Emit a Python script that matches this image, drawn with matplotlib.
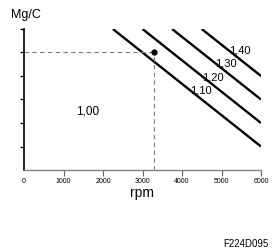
import matplotlib
matplotlib.use("Agg")
import matplotlib.pyplot as plt

# datos
ratios = ["1,10", "1,20", "1,30", "1,40"]
rpm_start = [2250, 3000, 3750, 4500]
mgc_start = [6, 6, 6, 6]
rpm_end = [6000, 6000, 6000, 6000]
mgc_end = [1, 2, 3, 4]
label_rpm = [4470, 4770, 5120, 5470]
label_mgc = [3.4, 3.95, 4.55, 5.1]

punto_rpm = 3300
punto_mgc = 5

xticks = [0, 1000, 2000, 3000, 4000, 5000, 6000]
yticks = [1, 2, 3, 4, 5, 6]

W, H = 278, 249
fig = plt.figure(figsize=(W / 100, H / 100), dpi=100)
ax = fig.add_axes([24 / W, 79 / H, 237 / W, 141 / H])

for i in range(len(ratios)):
    ax.plot([rpm_start[i], rpm_end[i]], [mgc_start[i], mgc_end[i]],
            color="black", lw=1.7, solid_capstyle="butt")
    ax.text(label_rpm[i], label_mgc[i], ratios[i], fontsize=8,
            family=["Liberation Sans Narrow", "Liberation Sans"],
            ha="center", va="center")

# lineas discontinuas hasta el punto
ax.plot([0, punto_rpm], [punto_mgc, punto_mgc], color="#808080", lw=0.8, dashes=(4, 3))
ax.plot([punto_rpm, punto_rpm], [0, punto_mgc], color="#808080", lw=0.8, dashes=(4, 3))
ax.plot([punto_rpm], [punto_mgc], "o", color="black", ms=3.5)

ax.text(1620, 2.47, "1,00", fontsize=8.5, family="Liberation Sans", ha="center", va="center")

ax.set_xlim(0, 6000)
ax.set_ylim(0, 6)
ax.spines["top"].set_visible(False)
ax.spines["right"].set_visible(False)
ax.spines["left"].set_color("black")
ax.spines["left"].set_linewidth(1.2)
ax.spines["bottom"].set_color("#808080")
ax.spines["bottom"].set_linewidth(1.0)

ax.set_yticks(yticks)
ax.set_yticklabels([])
ax.tick_params(axis="y", direction="out", length=3, width=1, color="black")
ax.set_xticks(xticks)
ax.set_xticklabels([str(v) for v in xticks], fontsize=5, family="Liberation Sans", color="black")
ax.tick_params(axis="x", direction="out", length=4, width=0.8, color="#606060", pad=2)
ax.xaxis.get_major_ticks()[0].tick1line.set_visible(False)

fig.text(26 / W, 1 - 15 / H, "Mg/C", fontsize=9, family="Liberation Sans", ha="center", va="center")
fig.text(142 / W, 1 - 197 / H, "rpm", fontsize=10, family="Liberation Sans", ha="center", va="baseline")
fig.text(268 / W, 1 - 247 / H, "F224D095", fontsize=7, family="Liberation Sans", ha="right", va="baseline")

fig.savefig("out.png", dpi=100)
